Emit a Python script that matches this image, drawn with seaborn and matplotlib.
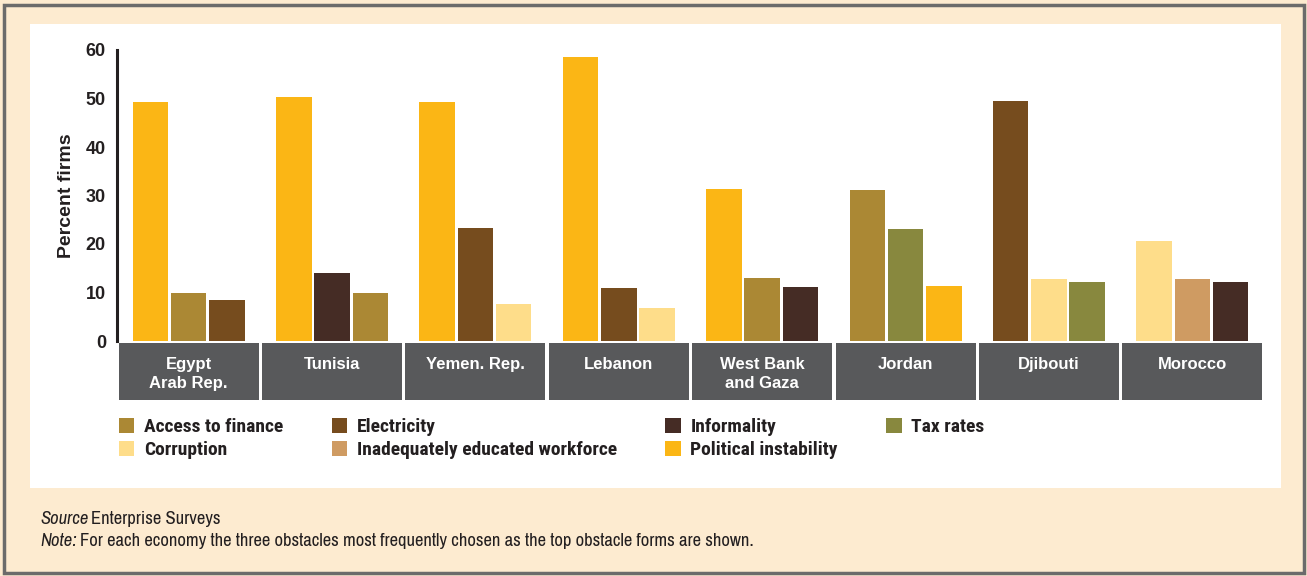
import numpy as np
import pandas as pd
import seaborn as sns
import matplotlib
matplotlib.use("Agg")
import matplotlib.pyplot as plt
from matplotlib.patches import Rectangle, Patch
import matplotlib.transforms as mtransforms

# ---------------- data ----------------
countries = ["Egypt\nArab Rep.", "Tunisia", "Yemen. Rep.", "Lebanon",
             "West Bank\nand Gaza", "Jordan", "Djibouti", "Morocco"]
obstacles_1 = ["Political instability", "Political instability", "Political instability",
               "Political instability", "Political instability", "Access to finance",
               "Electricity", "Corruption"]
values_1 = [49.3, 50.3, 49.3, 58.6, 31.3, 31.1, 49.5, 20.7]
obstacles_2 = ["Access to finance", "Informality", "Electricity", "Electricity",
               "Access to finance", "Tax rates", "Corruption",
               "Inadequately educated workforce"]
values_2 = [9.9, 14.0, 23.4, 10.9, 12.9, 23.0, 12.7, 12.7]
obstacles_3 = ["Electricity", "Access to finance", "Corruption", "Corruption",
               "Informality", "Political instability", "Tax rates", "Informality"]
values_3 = [8.5, 9.9, 7.6, 6.9, 11.2, 11.3, 12.1, 12.1]

legend_order = ["Access to finance", "Corruption", "Electricity",
                "Inadequately educated workforce", "Informality",
                "Political instability", "Tax rates"]
obstacle_colors = {
    "Access to finance": "#AB8834",
    "Electricity": "#764C1E",
    "Informality": "#452C25",
    "Tax rates": "#88883E",
    "Corruption": "#FEDD8A",
    "Inadequately educated workforce": "#CF9B62",
    "Political instability": "#FBB615",
}

rows = []
for slot, (obs, vals) in enumerate([(obstacles_1, values_1), (obstacles_2, values_2),
                                    (obstacles_3, values_3)]):
    for c, o, v in zip(countries, obs, vals):
        rows.append({"country": c, "slot": slot, "obstacle": o, "value": v})
df = pd.DataFrame(rows)

NARROW = ["Archivo Narrow", "Liberation Sans"]
NARROW_B = ["Roboto Condensed", "Liberation Sans"]
ARIAL = ["Liberation Sans", "DejaVu Sans"]
TXT = "#231F20"

# ---------------- figure ----------------
W, H = 1307, 576
fig = plt.figure(figsize=(W / 100, H / 100), dpi=100)
fig.patch.set_facecolor("#FDEBD0")

def fx(px):
    return px / W

def fy(py):
    return 1 - py / H

fig.patches.append(Rectangle((fx(4), fy(573)), fx(1300), 568 / H, transform=fig.transFigure,
                             facecolor="none", edgecolor="#6b6b6b", lw=2.5, zorder=-2))
fig.patches.append(Rectangle((fx(30), fy(488)), fx(1251), 464 / H, transform=fig.transFigure,
                             facecolor="white", edgecolor="none", zorder=-2))

ax = fig.add_axes([fx(117), fy(341), fx(1264) - fx(117), (341 - 50) / H])
ax.set_facecolor("none")

sns.barplot(data=df, x="country", y="value", hue="slot", order=countries,
            hue_order=[0, 1, 2], width=0.80, gap=0.07, dodge=True,
            palette=["#999999"] * 3, legend=False, ax=ax, saturation=1, err_kws={"linewidth": 0})

for slot, cont in enumerate(ax.containers):
    sub = df[df.slot == slot].set_index("country")
    for bar, c in zip(cont, countries):
        bar.set_facecolor(obstacle_colors[sub.loc[c, "obstacle"]])
        bar.set_edgecolor("none")

ax.set_xlim(-0.5, len(countries) - 0.5)
ax.set_ylim(0, 60)
ax.set_yticks([0, 10, 20, 30, 40, 50, 60])
for s in ["top", "right", "bottom"]:
    ax.spines[s].set_visible(False)
ax.spines["left"].set_color(TXT)
ax.spines["left"].set_linewidth(2.2)
ax.tick_params(axis="y", length=0, pad=8, labelsize=13, labelcolor=TXT)
for t in ax.get_yticklabels():
    t.set_fontweight("bold")
    t.set_fontfamily(ARIAL)
ax.set_xticks([])
ax.set_xlabel("")
ax.set_ylabel("Percent firms", fontsize=14, fontweight="bold", color=TXT,
              family=ARIAL, labelpad=8)

trans = mtransforms.blended_transform_factory(ax.transData, ax.transAxes)
box_top = -(343 - 341) / (341 - 50)
box_h = (400 - 343) / (341 - 50)
for i, c in enumerate(countries):
    ax.add_patch(Rectangle((i - 0.5 + 0.012, box_top - box_h), 1 - 0.024, box_h,
                           transform=trans, facecolor="#58595B", edgecolor="none",
                           clip_on=False))
    ax.text(i, -(357 - 341) / (341 - 50), c, transform=trans, ha="center", va="top",
            color="white", fontsize=12, fontweight="bold", family=ARIAL,
            linespacing=1.35)

handles = [Patch(facecolor=obstacle_colors[o], edgecolor="none", label=o) for o in legend_order]
leg = fig.legend(handles=handles, loc="upper left", bbox_to_anchor=(fx(119), fy(418)),
                 ncol=4, frameon=False, borderpad=0, borderaxespad=0,
                 handlelength=0.78, handleheight=0.78, handletextpad=0.5,
                 columnspacing=2.5, labelspacing=0.25,
                 prop={"family": NARROW_B, "weight": "bold", "size": 14})
for t in leg.get_texts():
    t.set_color(TXT)

fig.canvas.draw()
r = fig.canvas.get_renderer()
src_i = fig.text(fx(40), fy(519), "Source", style="italic", family=NARROW,
                 fontsize=13.4, va="center", color=TXT)
note_i = fig.text(fx(40), fy(541), "Note:", style="italic", family=NARROW,
                  fontsize=13.4, va="center", color=TXT)
bb1 = src_i.get_window_extent(r)
bb2 = note_i.get_window_extent(r)
fig.text((bb1.x1 + 3) / W, fy(519), "Enterprise Surveys", family=NARROW,
         fontsize=13.4, va="center", color=TXT)
fig.text((bb2.x1 + 3) / W, fy(541),
         "For each economy the three obstacles most frequently chosen as the top obstacle forms are shown.",
         family=NARROW, fontsize=13.4, va="center", color=TXT)

fig.savefig("out.png", dpi=100, facecolor=fig.get_facecolor())
